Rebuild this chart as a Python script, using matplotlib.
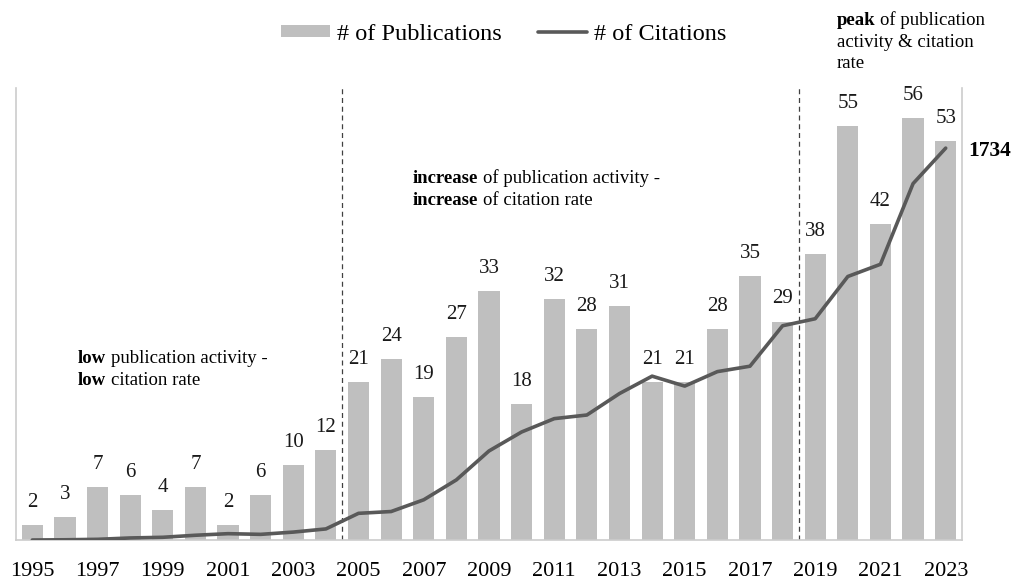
import matplotlib
matplotlib.use('Agg')
import matplotlib.pyplot as plt
from matplotlib.text import Annotation

plt.rcParams['font.family'] = ['Liberation Serif', 'DejaVu Serif']

years = list(range(1995, 2024))
pubs = [2, 3, 7, 6, 4, 7, 2, 6, 10, 12,
        21, 24, 19, 27, 33, 18, 32, 28, 31, 21,
        21, 28, 35, 29, 38, 55, 42, 56, 53]
cites = [0, 1, 3, 9, 12, 21, 28, 25, 35, 49,
         118, 126, 178, 266, 394, 478, 537, 553, 648, 725,
         681, 745, 769, 948, 979, 1166, 1220, 1577, 1734]
tick_years = list(range(1995, 2024, 2))
phase_breaks = [2004.5, 2018.5]

W, H = 1018, 583
fig = plt.figure(figsize=(W / 100, H / 100), dpi=100)
ax = fig.add_axes([16 / W, 1 - 540 / H, (962 - 16) / W, (540 - 88) / H])

bars = ax.bar(years, pubs, width=0.65, color='#bfbfbf', zorder=2)
for x, v in zip(years, pubs):
    ax.annotate(str(v), xy=(x, v), xytext=(0, 13), textcoords='offset points',
                ha='center', va='baseline', fontsize=15, color='#1a1a1a')

ax.set_xlim(1994.5, 2023.5)
ax.set_ylim(0, 60)
ax.set_xticks(tick_years)
ax.set_xticklabels([str(y) for y in tick_years], fontsize=16)
ax.tick_params(axis='x', length=0, pad=16)
ax.set_yticks([])
for s in ['left', 'right', 'bottom']:
    ax.spines[s].set_color('#cccccc')
    ax.spines[s].set_linewidth(1.2)
ax.spines['top'].set_visible(False)

for xb in phase_breaks:
    ax.axvline(xb, color='#404040', lw=0.9, ls=(0, (4, 3)), zorder=1)

ax2 = ax.twinx()
line, = ax2.plot(years, cites, color='#595959', lw=2.6, solid_capstyle='round', zorder=3)
ax2.set_ylim(0, 2000)
ax2.set_yticks([])
for s in ax2.spines.values():
    s.set_visible(False)
ax2.annotate('1734', xy=(years[-1], cites[-1]), xytext=(16.5, 0), textcoords='offset points',
             ha='left', va='center_baseline', fontsize=15.5, fontweight='bold',
             annotation_clip=False)


def mixed(x, y, bold, rest, size=13.5):
    t = fig.text(x / W, 1 - y / H, bold, fontsize=size, fontweight='bold',
                 ha='left', va='baseline')
    if rest:
        fig.add_artist(Annotation(
            rest, xy=(1, 0), xycoords=t, xytext=(3.4, 0), textcoords='offset points',
            ha='left', va='bottom', fontsize=size))
    return t


def plain(x, y, s, size=13.5):
    fig.text(x / W, 1 - y / H, s, fontsize=size, ha='left', va='baseline')


mixed(78, 363, 'low', 'publication activity -')
mixed(78, 385, 'low', 'citation rate')
mixed(413, 183, 'increase', 'of publication activity -')
mixed(413, 205, 'increase', 'of citation rate')
mixed(837, 25, 'peak', 'of publication')
plain(837, 47, 'activity & citation')
plain(837, 68, 'rate')

fig.legend([bars, line], ['# of Publications', '# of Citations'], loc='center',
           bbox_to_anchor=(504 / W, 1 - 34 / H), ncol=2, frameon=False, fontsize=17.5,
           handlelength=2.0, handleheight=0.4, handletextpad=0.3, columnspacing=1.5)

fig.savefig('out.png', dpi=100)
